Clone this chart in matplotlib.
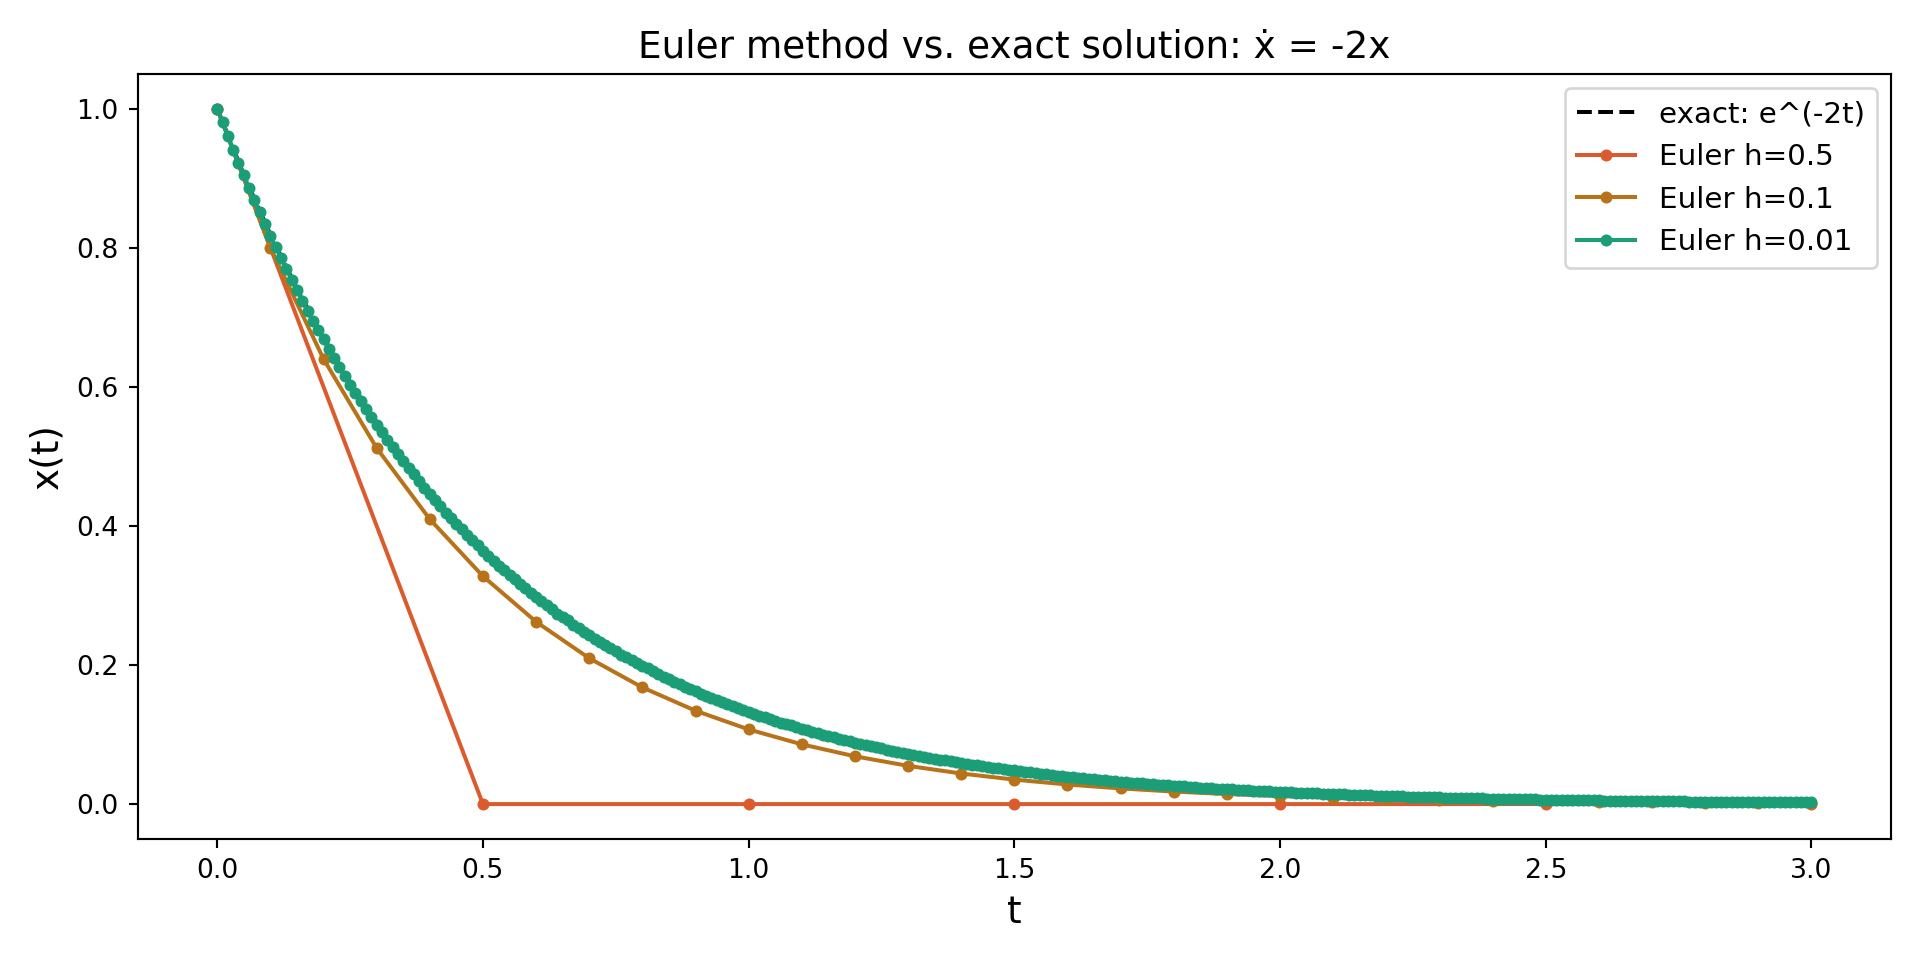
import numpy as np
import matplotlib
matplotlib.use("Agg")
import matplotlib.pyplot as plt

# ---- data ----
t_exact = np.round(np.arange(0, 61) * 0.05, 4)
x_exact = [1.0000, .9048, .8187, .7408, .6703, .6065, .5488, .4966, .4493, .4066,
           .3679, .3329, .3012, .2725, .2466, .2231, .2019, .1827, .1653, .1496,
           .1353, .1225, .1108, .1003, .0907, .0821, .0743, .0672, .0608, .0550,
           .0498, .0450, .0408, .0369, .0334, .0302, .0273, .0247, .0224, .0202,
           .0183, .0166, .0150, .0136, .0123, .0111, .0101, .0091, .0082, .0074,
           .0067, .0061, .0055, .0050, .0045, .0041, .0037, .0033, .0030, .0027,
           .0025]

t_h05 = [0.0, 0.5, 1.0, 1.5, 2.0, 2.5, 3.0]
x_h05 = [1.0, 0.0, 0.0, 0.0, 0.0, 0.0, 0.0]

t_h01 = np.round(np.arange(0, 31) * 0.1, 4)
x_h01 = [1.0, .8, .64, .512, .4096, .32768, .262144, .209715, .167772, .134218,
         .107374, .085899, .068719, .054976, .043980, .035184, .028147, .022518,
         .018014, .014412, .011529, .009223, .007379, .005903, .004722, .003778,
         .003022, .002418, .001934, .001547, .001238]

t_h001 = np.round(np.arange(0, 301) * 0.01, 4)
x_h001 = [
    1.000, .980, .960, .941, .922, .904, .886, .868, .851, .834,
    .817, .801, .785, .769, .754, .739, .724, .709, .695, .681,
    .668, .654, .641, .628, .616, .603, .591, .580, .568, .557,
    .545, .535, .524, .513, .503, .493, .483, .474, .464, .455,
    .446, .437, .428, .419, .411, .403, .395, .387, .379, .372,
    .364, .357, .350, .343, .336, .329, .323, .316, .310, .304,
    .298, .292, .286, .280, .274, .269, .264, .258, .253, .248,
    .243, .238, .233, .229, .224, .220, .215, .211, .207, .203,
    .199, .195, .191, .187, .183, .180, .176, .172, .169, .166,
    .162, .159, .156, .153, .150, .147, .144, .141, .138, .135,
    .133, .130, .127, .125, .122, .120, .117, .115, .113, .111,
    .1084, .1062, .1041, .1020, .0999, .0979, .0960, .0941, .0922, .0903,
    .0885, .0868, .0850, .0833, .0817, .0800, .0784, .0769, .0753, .0738,
    .0723, .0709, .0695, .0681, .0667, .0654, .0641, .0628, .0615, .0603,
    .0591, .0579, .0568, .0556, .0545, .0534, .0524, .0513, .0503, .0493,
    .0483, .0473, .0464, .0455, .0445, .0437, .0428, .0419, .0411, .0403,
    .0395, .0387, .0379, .0371, .0364, .0357, .0350, .0343, .0336, .0329,
    .0322, .0316, .0310, .0303, .0297, .0291, .0286, .0280, .0274, .0269,
    .0263, .0258, .0253, .0248, .0243, .0238, .0233, .0229, .0224, .0220,
    .0215, .0211, .0207, .0203, .0199, .0195, .0191, .0187, .0183, .0179,
    .0176, .0172, .0169, .0166, .0162, .0159, .0156, .0153, .0150, .0147,
    .0144, .0141, .0138, .0135, .0133, .0130, .0127, .0125, .0122, .0120,
    .0117, .0115, .0113, .0111, .0108, .0106, .0104, .0102, .0100, .0098,
    .0096, .0094, .0092, .0090, .0088, .0087, .0085, .0083, .0082, .0080,
    .0078, .0077, .0075, .0074, .0072, .0071, .0069, .0068, .0067, .0065,
    .0064, .0063, .0062, .0060, .0059, .0058, .0057, .0056, .0054, .0053,
    .0052, .0051, .0050, .0049, .0048, .0047, .0046, .0045, .0045, .0044,
    .0043, .0042, .0041, .0040, .0039, .0039, .0038, .0037, .0036, .0036,
    .0035, .0034, .0034, .0033, .0032, .0032, .0031, .0030, .0030, .0029,
    .0029, .0028, .0027, .0027, .0026, .0026, .0025, .0025, .0024, .0024,
    .0023,
]

labels = ["exact: e^(-2t)", "Euler h=0.5", "Euler h=0.1", "Euler h=0.01"]
colors = ["black", "#dc5b2e", "#b8731a", "#1b9e77"]

fig, ax = plt.subplots(figsize=(10, 5), dpi=192)
ax.plot(t_exact, x_exact, "--", color=colors[0], lw=1.5, label=labels[0])
ax.plot(t_h05, x_h05, "-o", color=colors[1], lw=1.5, ms=3.5, label=labels[1])
ax.plot(t_h01, x_h01, "-o", color=colors[2], lw=1.5, ms=3.5, label=labels[2])
ax.plot(t_h001, x_h001, "-o", color=colors[3], lw=1.5, ms=3.5, label=labels[3])

ax.set_title("Euler method vs. exact solution: \u1e8b = -2x", fontsize=14)
ax.set_xlabel("t", fontsize=14)
ax.set_ylabel("x(t)", fontsize=14)
ax.legend(fontsize=11, loc="upper right")
fig.tight_layout()
fig.savefig("out.png", dpi=192)
